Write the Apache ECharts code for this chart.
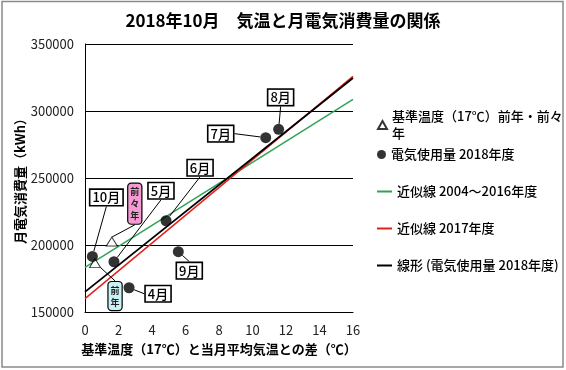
<!DOCTYPE html>
<html>
<head>
<meta charset="utf-8">
<script src="https://cdn.jsdelivr.net/npm/echarts@6/dist/echarts.min.js"></script>
<style>
html,body{margin:0;padding:0;background:#fff;}
#c{width:566px;height:370px;}
</style>
</head>
<body>
<div id="c"></div>
<script>
// ---- data ----
const months = ['10月', '5月', '4月', '6月', '9月', '7月', '8月'];
const tempDiff = [0.44, 1.73, 2.63, 4.84, 5.57, 10.79, 11.56];
const usage2018 = [191500, 187500, 168100, 218100, 195000, 280100, 286300];

const baseLabels = ['前年', '前々年'];
const baseDiff = [0.6, 1.6];
const baseUsage = [186500, 202500];

const trendX = [0, 16];
const trend2004_2016 = [183300, 308600];
const trend2017 = [160000, 325800];
const trend2018 = [165000, 324600];

const seriesNames = {
  base: '基準温度（17℃）前年・前々年',
  usage: '電気使用量 2018年度',
  t0416: '近似線 2004～2016年度',
  t2017: '近似線 2017年度',
  t2018: '線形 (電気使用量 2018年度)'
};

// ---- label styling (offsets of label boxes from their markers, in px) ----
const monthLabelOffsets = {
  '10月': [14, -59], '5月': [47, -71], '4月': [29, 6], '6月': [34, -53],
  '9月': [11, 19], '7月': [-45, -4], '8月': [2, -32]
};
const baseLabelOffsets = { '前年': [20, 33], '前々年': [23, -38] };
const baseLabelColors = { '前年': '#c9f3f5', '前々年': '#f49bd3' };

const FONT = '"Noto Sans CJK JP", "Noto Sans", sans-serif';

const chart = echarts.init(document.getElementById('c'), null, { renderer: 'canvas' });

const usageData = months.map((m, i) => ({ name: m, value: [tempDiff[i], usage2018[i]] }));
const baseData = baseLabels.map((n, i) => ({
  name: n,
  value: [baseDiff[i], baseUsage[i]],
  label: {
    formatter: n.split('').join('\n'),
    backgroundColor: baseLabelColors[n]
  }
}));

function lineData(ys) { return trendX.map((x, i) => [x, ys[i]]); }

const legendCommon = {
  orient: 'vertical',
  left: 372,
  itemWidth: 15,
  itemHeight: 2,
  itemGap: 0,
  textStyle: { fontFamily: FONT, fontSize: 13, fontWeight: 500, color: '#000', lineHeight: 17 },
  selectedMode: false
};

const option = {
  backgroundColor: '#fff',
  animation: false,
  title: {
    text: '2018年10月　気温と月電気消費量の関係',
    left: 'center',
    top: 7,
    textStyle: { fontFamily: FONT, fontSize: 17, fontWeight: 'bold', color: '#000' }
  },
  graphic: [{
    type: 'rect',
    shape: { x: 2, y: 1.5, width: 561, height: 365.5 },
    style: { fill: 'none', stroke: '#8a8a8a', lineWidth: 1.5 },
    silent: true
  }],
  legend: [
    Object.assign({}, legendCommon, {
      top: 103, itemWidth: 9, itemHeight: 8,
      data: [{ name: seriesNames.base, icon: 'triangle' }],
      formatter: () => '基準温度（17℃）前年・前々\n年'
    }),
    Object.assign({}, legendCommon, {
      top: 141, itemWidth: 9, itemHeight: 9,
      data: [{ name: seriesNames.usage, icon: 'circle' }]
    }),
    Object.assign({}, legendCommon, {
      top: 178, data: [{ name: seriesNames.t0416, icon: 'rect' }]
    }),
    Object.assign({}, legendCommon, {
      top: 215, data: [{ name: seriesNames.t2017, icon: 'rect' }]
    }),
    Object.assign({}, legendCommon, {
      top: 252, data: [{ name: seriesNames.t2018, icon: 'rect' }]
    })
  ],
  grid: { left: 85, right: 213, top: 44, bottom: 58 },
  xAxis: {
    type: 'value',
    min: 0, max: 16, interval: 2,
    name: '基準温度（17℃）と当月平均気温との差（℃）',
    nameLocation: 'middle',
    nameGap: 31,
    nameTextStyle: { fontFamily: FONT, fontSize: 13, fontWeight: 'bold', color: '#000' },
    axisLine: { show: true, onZero: false, lineStyle: { color: '#000', width: 1 } },
    axisTick: { show: false },
    splitLine: { show: false },
    axisLabel: { fontFamily: FONT, fontSize: 13, color: '#222', margin: 12 }
  },
  yAxis: {
    type: 'value',
    min: 150000, max: 350000, interval: 50000,
    name: '月電気消費量（kWh）',
    nameLocation: 'middle',
    nameGap: 54,
    nameRotate: 90,
    nameTextStyle: { fontFamily: FONT, fontSize: 13, fontWeight: 'bold', color: '#000' },
    axisLine: { show: true, lineStyle: { color: '#000', width: 1 } },
    axisTick: { show: false },
    splitLine: { show: true, lineStyle: { color: '#000', width: 1 } },
    axisLabel: { fontFamily: FONT, fontSize: 13, color: '#222', margin: 11, formatter: (v) => String(v) }
  },
  series: [
    {
      name: seriesNames.t0416, type: 'line', data: lineData(trend2004_2016),
      showSymbol: false, symbol: 'none', z: 2,
      lineStyle: { color: '#2ea356', width: 1.5 }, itemStyle: { color: '#2ea356' }
    },
    {
      name: seriesNames.t2017, type: 'line', data: lineData(trend2017),
      showSymbol: false, symbol: 'none', z: 2,
      lineStyle: { color: '#e3201c', width: 1.5 }, itemStyle: { color: '#e3201c' }
    },
    {
      name: seriesNames.t2018, type: 'line', data: lineData(trend2018),
      showSymbol: false, symbol: 'none', z: 3,
      lineStyle: { color: '#000', width: 1.8 }, itemStyle: { color: '#000' }
    },
    {
      name: seriesNames.base, type: 'scatter', data: baseData, z: 4,
      symbol: 'triangle', symbolSize: [11, 9],
      itemStyle: { color: '#fff', borderColor: '#000', borderWidth: 1 },
      label: {
        show: true, position: 'inside', opacity: 1,
        fontFamily: FONT, fontSize: 9, fontWeight: 'bold', color: '#222',
        lineHeight: 12, padding: [2, 2, 2, 2],
        borderColor: '#000', borderWidth: 1.2, borderRadius: 3
      },
      labelLine: { show: true, lineStyle: { color: '#000', width: 1, opacity: 1 } },
      labelLayout: (p) => {
        const o = baseLabelOffsets[baseLabels[p.dataIndex]];
        return { dx: o[0], dy: o[1] };
      }
    },
    {
      name: seriesNames.usage, type: 'scatter', data: usageData, z: 5,
      symbol: 'circle', symbolSize: 11,
      itemStyle: { color: '#000' },
      label: {
        show: true, position: 'inside', formatter: '{b}', opacity: 1,
        fontFamily: FONT, fontSize: 13, fontWeight: 500, color: '#000',
        lineHeight: 13, padding: [1, 2, 1, 2],
        backgroundColor: '#fff', borderColor: '#000', borderWidth: 1.6
      },
      labelLine: { show: true, lineStyle: { color: '#000', width: 1, opacity: 1 } },
      labelLayout: (p) => {
        const o = monthLabelOffsets[months[p.dataIndex]];
        return { dx: o[0], dy: o[1] };
      }
    }
  ]
};

chart.setOption(option);
</script>
</body>
</html>
